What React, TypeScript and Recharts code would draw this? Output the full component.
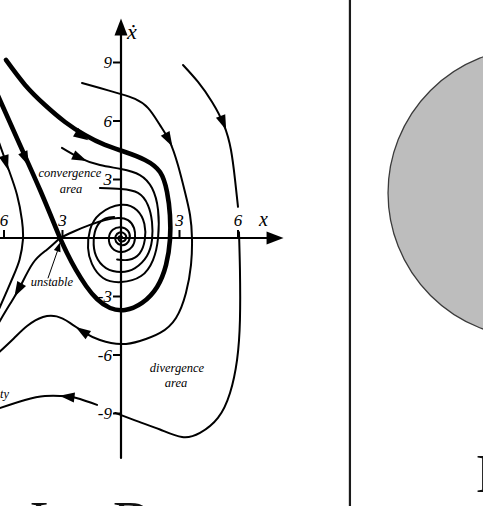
import React from 'react';
import { ComposedChart, XAxis, YAxis, Line, Scatter, ReferenceLine, ReferenceDot } from 'recharts';

const W = 483;
const H = 506;
const X_DOMAIN: [number, number] = [-6.205, 18.564];
const Y_DOMAIN: [number, number] = [-13.744, 12.205];

// ---- trajectories (phase plane, x vs x-dot) ----
const thickOuter = [[-5.9, 9.13], [-4.92, 7.85], [-3.9, 6.82], [-2.87, 5.95], [-1.85, 5.28], [-0.82, 4.77], [0.21, 4.41], [1.23, 4.0], [2.0, 3.38], [2.36, 2.36], [2.51, 1.18], [2.51, -0.1], [2.31, -1.38], [1.85, -2.51], [1.08, -3.33], [0.21, -3.69], [-0.56, -3.59], [-1.23, -3.13], [-1.79, -2.46], [-2.31, -1.64], [-2.77, -0.77], [-3.13, 0]];
const thickInner = [[-6.4, 7.5], [-5.18, 4.77], [-4.15, 2.46], [-3.13, 0]];
const curveB = [[-2.0, 7.95], [-1.08, 7.69], [0, 7.38], [0.72, 7.13], [1.38, 6.67], [2.0, 5.79], [2.51, 4.92], [2.92, 3.74], [3.28, 2.36], [3.54, 1.18], [3.64, 0], [3.59, -1.38], [3.33, -2.82], [2.82, -4.1], [2.0, -4.87], [0.97, -5.28], [0, -5.44], [-1.08, -5.23], [-1.85, -4.87], [-2.62, -4.35], [-3.3, -4.02], [-4.0, -4.05], [-4.8, -4.5], [-5.5, -5.15], [-6.3, -5.9]];
const curveCTop = [[3.18, 8.87], [3.95, 8.0], [4.67, 6.97], [5.28, 5.79], [5.64, 4.51], [5.85, 2.97], [6.0, 1.6]];
const curveCMid = [[6.05, 0.3], [6.1, -1.64], [6.1, -4.21], [5.95, -6.26], [5.59, -7.95], [4.97, -9.23], [4.05, -10.0], [3.13, -10.21], [2.0, -9.82], [0.9, -9.42], [-0.3, -8.97]];
const curveCBot = [[-1.23, -8.56], [-2.1, -8.26], [-2.77, -8.12], [-3.9, -8.1], [-4.92, -8.31], [-6.3, -8.75]];
const curveD = [[-3.03, 4.62], [-2.1, 4.1], [-1.08, 3.74], [0, 3.54], [0.97, 3.23], [1.59, 2.56], [1.9, 1.44], [1.9, 0], [1.64, -1.13], [1.03, -1.95], [0, -2.26], [-0.92, -2.05], [-1.49, -1.33], [-1.69, -0.51], [-1.59, 0.41], [-1.08, 1.23], [0, 1.7], [0.82, 1.42], [1.2, 0.72], [1.22, -0.1], [0.95, -0.8], [0.4, -1.12], [-0.2, -1.1]];
const curveE = [[-1.08, 2.56], [0, 2.51], [0.87, 2.31], [1.38, 1.69], [1.59, 0.82], [1.59, -0.1], [1.33, -0.92], [0.72, -1.54], [0, -1.74], [-0.77, -1.54], [-1.28, -0.92], [-1.4, -0.1], [-1.22, 0.62], [-0.8, 1.0], [-0.35, 1.08]];
const curveS = [[-3.13, 0], [-2.36, 0.36], [-1.59, 0.67], [-0.82, 0.92], [-0.15, 1.03], [0.36, 0.92], [0.67, 0.51], [0.72, 0], [0.56, -0.46], [0.05, -0.72], [-0.46, -0.51], [-0.62, 0], [-0.42, 0.42], [0, 0.55], [0.36, 0.36], [0.45, 0], [0.28, -0.3], [0, -0.36], [-0.25, -0.2], [-0.28, 0.08], [-0.08, 0.28], [0.18, 0.22], [0.26, 0], [0.08, -0.18], [-0.12, -0.08], [-0.08, 0.08], [0.05, 0.07]];
const curveF = [[-6.4, 5.3], [-5.79, 3.59], [-5.33, 2.21], [-5.08, 0.92], [-5.03, -0.1], [-5.2, -1.1], [-5.54, -2.0], [-6.21, -3.54], [-6.35, -3.85]];
const curveU = [[-3.13, 0], [-3.8, -0.6], [-4.51, -1.28], [-5.18, -2.51], [-5.7, -3.4], [-6.3, -4.4]];
const pointerLine = [[-3.74, -2.05], [-3.2, -0.5]];
const axisXLine = [[-6.4, 0], [7.6, 0]];
const axisYLine = [[0, -11.28], [0, 10.5]];

// arrowheads: position and flow direction
const flowArrows = [
  { x: -2.0, y: 5.22, dx: 1, dy: -0.62 },
  { x: -4.88, y: 4.05, dx: 0.44, dy: -1 },
  { x: -5.9, y: 3.85, dx: 0.3, dy: -1 },
  { x: -5.28, y: -2.67, dx: -0.55, dy: -1 },
  { x: 2.45, y: 5.03, dx: 0.55, dy: -1 },
  { x: -2.0, y: -4.77, dx: -1, dy: 0.65 },
  { x: 5.25, y: 5.9, dx: 0.4, dy: -1 },
  { x: -2.77, y: -8.13, dx: -1, dy: 0.12 },
  { x: -2.1, y: 4.1, dx: 1, dy: -0.45 },
];
const axisArrows = [
  { x: 0, y: 10.82, dx: 0, dy: 1 },
  { x: 7.9, y: 0, dx: 1, dy: 0 },
];
const pointerArrows = [{ x: -3.2, y: -0.45, dx: 0.33, dy: 1 }];

// ticks
const yTickValues = [9, 6, 3, -3, -6, -9];
const yTickLabels = ['9', '6', '3', '-3', '-6', '-9'];
const xTickValues = [-6, -3, 3, 6];
const xTickLabels = ['6', '3', '3', '6'];

// annotations
const noteTexts = ['convergence', 'area', 'unstable', 'divergence', 'area', 'stability'];
const noteX = [-2.62, -2.56, -3.54, 2.87, 2.82, -5.74];
const noteY = [3.13, 2.31, -2.46, -6.87, -7.64, -8.21];
const noteAnchor = ['middle', 'middle', 'middle', 'middle', 'middle', 'end'];

const axisNames = [
  { x: 0.56, y: 10.2, text: '\u1E8B', size: 22 },
  { x: 7.3, y: 0.62, text: 'x', size: 20 },
];

const bigLetters = [
  { x: -4.67, y: -15.44, text: 'L' },
  { x: -0.41, y: -15.44, text: 'D' },
  { x: 18.2, y: -13.03, text: 'D' },
];

// right panel disc
const DIVIDER_X = 11.74;
const DISC_X = 21.13;
const DISC_Y = 2.31;
const DISC_R = 145;

const toPts = (a: number[][]) => a.map(([x, y]) => ({ x, y }));

const curves = [
  { id: 'thickOuter', pts: thickOuter, w: 4.6 },
  { id: 'thickInner', pts: thickInner, w: 4.6 },
  { id: 'B', pts: curveB, w: 2 },
  { id: 'Ctop', pts: curveCTop, w: 2 },
  { id: 'Cmid', pts: curveCMid, w: 2 },
  { id: 'Cbot', pts: curveCBot, w: 2 },
  { id: 'D', pts: curveD, w: 2 },
  { id: 'E', pts: curveE, w: 2 },
  { id: 'S', pts: curveS, w: 2 },
  { id: 'F', pts: curveF, w: 2 },
  { id: 'U', pts: curveU, w: 2 },
  { id: 'ptr', pts: pointerLine, w: 1 },
  { id: 'ax', pts: axisXLine, w: 2.2 },
  { id: 'ay', pts: axisYLine, w: 2.2 },
];

const SERIF = '"Liberation Serif", "DejaVu Serif", serif';

const makeArrow = (len: number, half: number) => (props: any) => {
  const { cx, cy, payload } = props;
  if (cx == null || cy == null) return <g />;
  const n = Math.hypot(payload.dx, payload.dy);
  const ux = payload.dx / n;
  const uy = -payload.dy / n;
  const tx = cx + (ux * len) / 2;
  const ty = cy + (uy * len) / 2;
  const bx = cx - (ux * len) / 2;
  const by = cy - (uy * len) / 2;
  const px = -uy * half;
  const py = ux * half;
  return <polygon points={`${tx},${ty} ${bx + px},${by + py} ${bx - px},${by - py}`} fill="#000" />;
};

const YTick = (props: any) => {
  const { cx, cy, payload } = props;
  return (
    <g>
      <line x1={cx - 8} x2={cx} y1={cy} y2={cy} stroke="#000" strokeWidth={2} />
      <text x={cx - 9} y={cy + 6} textAnchor="end" fontSize={17} fontStyle="italic" fontFamily={SERIF} fill="#000">
        {payload.label}
      </text>
    </g>
  );
};

const XTick = (props: any) => {
  const { cx, cy, payload } = props;
  return (
    <g>
      <line x1={cx} x2={cx} y1={cy - 8} y2={cy} stroke="#000" strokeWidth={2} />
      <text x={cx} y={cy - 12} textAnchor="middle" fontSize={17} fontStyle="italic" fontFamily={SERIF} fill="#000">
        {payload.label}
      </text>
    </g>
  );
};

const Note = (props: any) => {
  const { cx, cy, payload } = props;
  return (
    <text x={cx} y={cy} textAnchor={payload.anchor} fontSize={12.5} fontStyle="italic" fontFamily={SERIF} fill="#000">
      {payload.text}
    </text>
  );
};

const AxisName = (props: any) => {
  const { cx, cy, payload } = props;
  return (
    <text x={cx} y={cy} textAnchor="middle" fontSize={payload.size} fontStyle="italic" fontFamily={SERIF} fill="#000">
      {payload.text}
    </text>
  );
};

const BigLetter = (props: any) => {
  const { cx, cy, payload } = props;
  return (
    <text x={cx} y={cy} textAnchor="start" fontSize={54} fontFamily={SERIF} fill="#111">
      {payload.text}
    </text>
  );
};

const yTicks = yTickValues.map((v, i) => ({ x: 0, y: v, label: yTickLabels[i] }));
const xTicks = xTickValues.map((v, i) => ({ x: v, y: 0, label: xTickLabels[i] }));
const notes = noteTexts.map((t, i) => ({ x: noteX[i], y: noteY[i], text: t, anchor: noteAnchor[i] }));

export default function App() {
  return (
    <div style={{ position: 'absolute', left: 0, top: 0, width: W, height: H, background: '#fff' }}>
      <ComposedChart width={W} height={H} margin={{ top: 0, right: 0, bottom: 0, left: 0 }}>
        <XAxis type="number" dataKey="x" domain={X_DOMAIN} hide allowDataOverflow />
        <YAxis type="number" dataKey="y" domain={Y_DOMAIN} hide allowDataOverflow />
        <ReferenceDot x={DISC_X} y={DISC_Y} r={DISC_R} fill="#bdbdbd" stroke="#3a3a3a" strokeWidth={1.3} ifOverflow="visible" />
        <ReferenceLine x={DIVIDER_X} stroke="#1b1b1b" strokeWidth={2.2} />
        {curves.map((c) => (
          <Line
            key={c.id}
            data={toPts(c.pts)}
            dataKey="y"
            type="natural"
            stroke="#000"
            strokeWidth={c.w}
            strokeLinecap="round"
            strokeLinejoin="round"
            dot={false}
            activeDot={false}
            isAnimationActive={false}
          />
        ))}
        <Scatter data={flowArrows} shape={makeArrow(15, 5)} isAnimationActive={false} />
        <Scatter data={axisArrows} shape={makeArrow(17, 6.5)} isAnimationActive={false} />
        <Scatter data={pointerArrows} shape={makeArrow(9, 3.5)} isAnimationActive={false} />
        <Scatter data={yTicks} shape={YTick} isAnimationActive={false} />
        <Scatter data={xTicks} shape={XTick} isAnimationActive={false} />
        <Scatter data={notes} shape={Note} isAnimationActive={false} />
        <Scatter data={axisNames} shape={AxisName} isAnimationActive={false} />
        <Scatter data={bigLetters} shape={BigLetter} isAnimationActive={false} />
      </ComposedChart>
    </div>
  );
}
